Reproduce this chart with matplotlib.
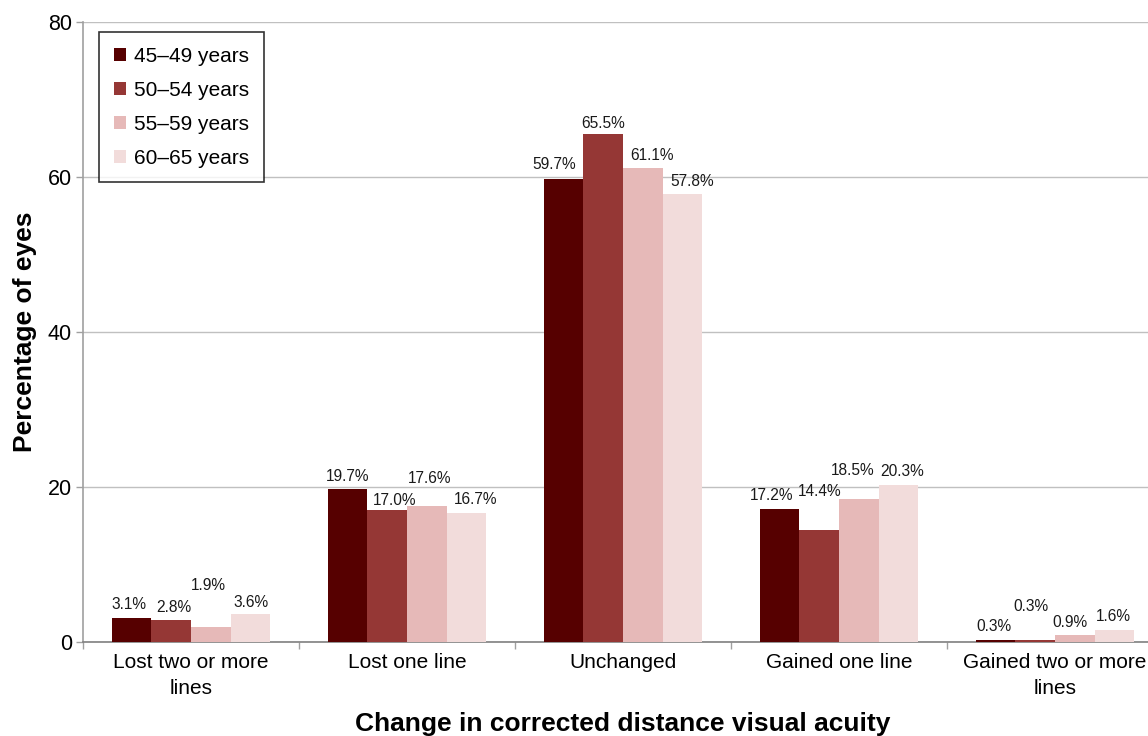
import matplotlib
matplotlib.use("Agg")
import matplotlib.pyplot as plt
import numpy as np

categories = ["Lost two or more\nlines", "Lost one line", "Unchanged", "Gained one line", "Gained two or more\nlines"]
series_names = ["45\u201349 years", "50\u201354 years", "55\u201359 years", "60\u201365 years"]
values_45_49 = [3.1, 19.7, 59.7, 17.2, 0.3]
values_50_54 = [2.8, 17.0, 65.5, 14.4, 0.3]
values_55_59 = [1.9, 17.6, 61.1, 18.5, 0.9]
values_60_65 = [3.6, 16.7, 57.8, 20.3, 1.6]
y_ticks = [0, 20, 40, 60, 80]

series = [values_45_49, values_50_54, values_55_59, values_60_65]
colors = ["#560000", "#953735", "#E6B9B8", "#F2DCDB"]
# label nudges (pixels) used in the original to avoid overlaps
extra_dy = [
    [0, 0, 2, 0, 0],
    [0, -3, -2, 26, 20],
    [29, 14, 0, 15, 0],
    [-1, 0, 0, 0, 0],
]
extra_dx = [
    [-3, 0, -10, -8, -2],
    [3, 7, 0, 0, -4],
    [-2, 3, 9, -6, -5],
    [1, 9, 10, 4, -1],
]

plt.rcParams['font.family'] = ['Liberation Sans', 'DejaVu Sans']
fig = plt.figure(figsize=(11.48, 7.36), dpi=100)
ax = fig.add_axes([83/1148, (736-642)/736, 1080/1148, 620/736])

n = len(categories)
x = np.arange(n)
w = 0.183
px2pt = 72/100
for j, (vals, col, name) in enumerate(zip(series, colors, series_names)):
    xs = x + (j - 1.5) * w
    ax.bar(xs, vals, width=w, color=col, label=name, zorder=3, linewidth=0)
    for i, v in enumerate(vals):
        ax.annotate(f"{v:.1f}%", (xs[i], v),
                    xytext=(extra_dx[j][i] * px2pt, (13 + extra_dy[j][i]) * px2pt),
                    textcoords="offset points", ha="center", va="center",
                    fontsize=11.2, color="#1a1a1a", zorder=4)

ax.set_xlim(-0.5, n - 0.5)
ax.set_ylim(0, 80)
ax.set_yticks(y_ticks)
ax.set_yticklabels([str(t) for t in y_ticks], fontsize=15.5)
ax.yaxis.grid(True, color="#c0c0c0", linewidth=1, zorder=0)
ax.set_axisbelow(True)

ax.set_xticks(x)
ax.set_xticklabels(categories, fontsize=15, linespacing=1.45)
ax.tick_params(axis='x', length=0, pad=8)
ax.set_xticks(np.arange(n + 1) - 0.5, minor=True)
ax.tick_params(axis='x', which='minor', length=5, color="#a0a0a0", width=1)
ax.tick_params(axis='y', length=5, color="#a0a0a0", width=1, pad=3)

for s in ['top', 'right']:
    ax.spines[s].set_visible(False)
ax.spines['left'].set_color("#a0a0a0")
ax.spines['left'].set_linewidth(1.2)
ax.spines['bottom'].set_color("#808080")
ax.spines['bottom'].set_linewidth(1.2)

ax.set_xlabel("Change in corrected distance visual acuity", fontsize=19, fontweight='bold', labelpad=10)
ax.set_ylabel("Percentage of eyes", fontsize=19, fontweight='bold', labelpad=8)

leg = ax.legend(loc='upper left', bbox_to_anchor=(16/1080, 1 - 10/620), borderaxespad=0,
                fontsize=15, frameon=True, fancybox=False, edgecolor="black",
                handlelength=0.6, handleheight=0.6, handletextpad=0.4,
                labelspacing=0.72, borderpad=0.7)
leg.get_frame().set_linewidth(1.2)

fig.savefig("out.png", dpi=100)
